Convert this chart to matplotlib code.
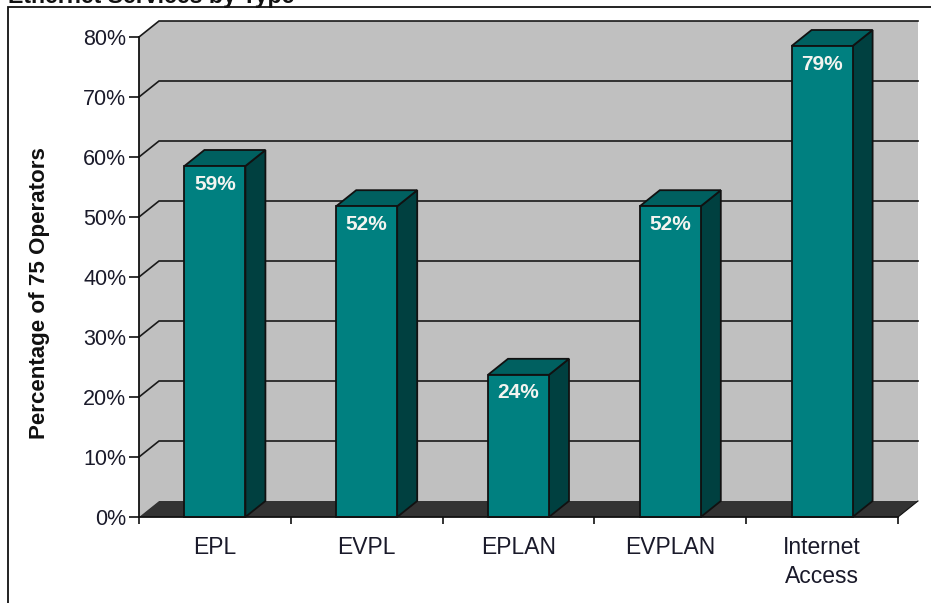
import matplotlib
matplotlib.use("Agg")
import matplotlib.pyplot as plt
from matplotlib.patches import Polygon, Rectangle
from matplotlib.ticker import FixedLocator, FixedFormatter, NullFormatter

categories = ["EPL", "EVPL", "EPLAN", "EVPLAN", "Internet\nAccess"]
values = [58.5, 51.8, 23.7, 51.8, 78.5]
labels = ["59%", "52%", "24%", "52%", "79%"]
y_ticks = [0, 10, 20, 30, 40, 50, 60, 70, 80]
title = "Ethernet Services by Type"
y_title = "Percentage of 75 Operators"

W, H = 931, 603
L, R, T, B = 139, 898, 37, 517
plt.rcParams["font.family"] = ["Liberation Sans", "DejaVu Sans"]
fig = plt.figure(figsize=(W / 100, H / 100), dpi=100, facecolor="white")
ax = fig.add_axes([L / W, 1 - B / H, (R - L) / W, (B - T) / H])
ax.set_xlim(0, 5)
ax.set_ylim(0, 80)
ax.patch.set_visible(False)
for s in ("top", "right"):
    ax.spines[s].set_visible(False)
for s in ("left", "bottom"):
    ax.spines[s].set_linewidth(1.3)
    ax.spines[s].set_color("#111111")
    ax.spines[s].set_zorder(6)

DX = 20 / ((R - L) / 5)
DY = 16 / ((B - T) / 80)
BW = 61 / ((R - L) / 5)

WALL = "#C0C0C0"
FLOOR = "#333333"
EDGE = "#111111"

def poly(pts, fc, z, ec="none", lw=0):
    ax.add_patch(Polygon(pts, closed=True, fc=fc, ec=ec, lw=lw, zorder=z,
                         clip_on=False, joinstyle="miter"))

ymax = y_ticks[-1]
poly([(0, 0), (DX, DY), (5 + DX, DY), (5 + DX, ymax + DY), (DX, ymax + DY), (0, ymax)], WALL, 1)
poly([(0, 0), (DX, DY), (5 + DX, DY), (5, 0)], FLOOR, 2)
for v in y_ticks[1:]:
    ax.plot([0, DX, 5 + DX], [v, v + DY, v + DY], color="#1a1a1a", lw=1.2, zorder=3,
            clip_on=False, solid_joinstyle="miter")
ax.plot([5, 5 + DX], [0, DY], color="#111111", lw=0.8, zorder=3, clip_on=False)

for i, (v, lab) in enumerate(zip(values, labels)):
    x0, x1 = i + 0.5 - BW / 2, i + 0.5 + BW / 2
    poly([(x1, 0), (x1 + DX, DY), (x1 + DX, v + DY), (x1, v)], "#004040", 4, EDGE, 1.3)
    poly([(x0, v), (x0 + DX, v + DY), (x1 + DX, v + DY), (x1, v)], "#006060", 4, EDGE, 1.3)
    poly([(x0, 0), (x1, 0), (x1, v), (x0, v)], "#008080", 5, EDGE, 1.3)
    ax.annotate(lab, (i + 0.5, v), xytext=(0, -13), textcoords="offset points",
                ha="center", va="center", color="#F4F4F0", fontsize=15,
                fontweight="bold", zorder=7)

ax.xaxis.set_major_locator(FixedLocator(range(6)))
ax.xaxis.set_major_formatter(NullFormatter())
ax.xaxis.set_minor_locator(FixedLocator([i + 0.5 for i in range(5)]))
ax.xaxis.set_minor_formatter(FixedFormatter(categories))
ax.tick_params(axis="x", which="major", length=5, width=1.2, color="#111111", direction="out")
ax.tick_params(axis="x", which="minor", length=0, pad=14, labelsize=16.5, labelcolor="#1a1a2a")
for t in ax.xaxis.get_minorticklabels():
    t.set_linespacing(1.3)
ax.set_yticks(y_ticks)
ax.set_yticklabels([f"{v}%" for v in y_ticks])
ax.tick_params(axis="y", length=7, width=1.2, color="#111111", pad=2,
               labelsize=15.5, labelcolor="#1a1a2a", direction="out")

fig.add_artist(Rectangle((8 / W, -0.1), 1.2, 1 - 7 / H + 0.1, transform=fig.transFigure,
                         fc="none", ec="#111111", lw=1.3, zorder=0))
fig.text(8 / W, 1 - 3 / H, title, fontsize=16.7, fontweight="bold", color="#111111",
         ha="left", va="baseline")
fig.text(40 / W, 1 - 293 / H, y_title, fontsize=16.1, fontweight="bold", color="#111111",
         rotation=90, ha="center", va="center")

fig.savefig("out.png", dpi=100, facecolor="white")
